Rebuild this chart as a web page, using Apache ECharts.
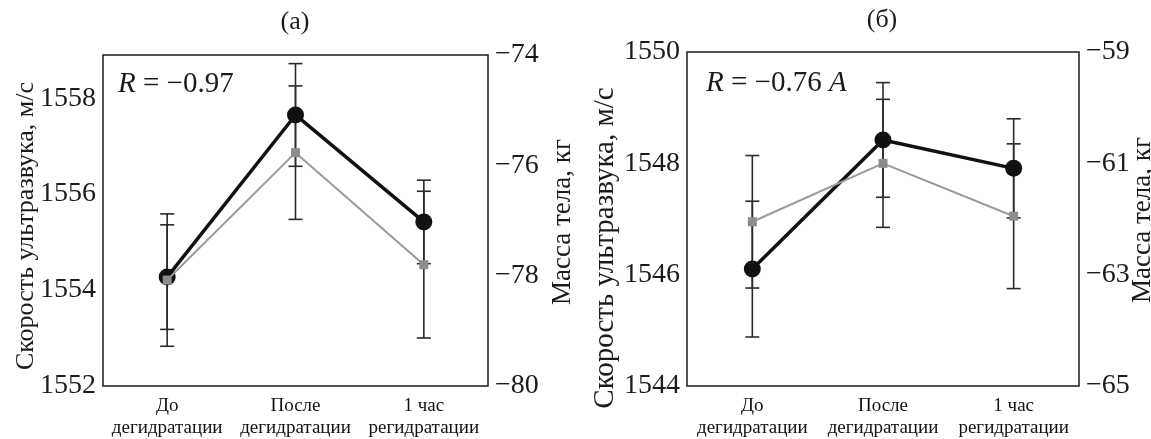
<!DOCTYPE html>
<html>
<head>
<meta charset="utf-8">
<script src="https://cdn.jsdelivr.net/npm/echarts@6/dist/echarts.min.js"></script>
<style>
  html, body { margin: 0; padding: 0; background: #fff; }
  #chart { width: 1151px; height: 439px; }
</style>
</head>
<body>
<div id="chart"></div>
<script>
// categories (same for both panels)
const categories = ['До\nдегидратации', 'После\nдегидратации', '1 час\nрегидратации'];

// panel (а): speed of ultrasound (left axis) and body mass (right axis, negated)
const speedA = [1554.27, 1557.65, 1555.42];
const speedErrA = [1.09, 1.07, 0.87];
const massA = [-78.08, -75.77, -77.80];
const massErrA = [1.2, 1.21, 1.33];

// panel (б)
const speedB = [1546.1, 1548.42, 1547.91];
const speedErrB = [1.22, 1.03, 0.89];
const massB = [-62.05, -61.0, -61.95];
const massErrB = [1.19, 1.15, 1.3];

// axis ranges
const speedRangeA = [1552, 1558.9];
const massRangeA = [-80, -74];
const speedRangeB = [1544, 1550];
const massRangeB = [-65, -59];
const tickStep = 2;

const FONT = '"Liberation Serif", "DejaVu Serif", serif';
const INK = '#1b1b1b';

// error bars drawn through the axes of the series
function errorBar(params, api) {
  let x = api.value(0), y = api.value(1), e = api.value(2);
  let hi = api.coord([x, y + e]);
  let lo = api.coord([x, y - e]);
  let w = 7;
  let style = { stroke: '#2a2a2a', lineWidth: 1.6 };
  return {
    type: 'group',
    children: [
      { type: 'line', shape: { x1: hi[0], y1: hi[1], x2: lo[0], y2: lo[1] }, style: style },
      { type: 'line', shape: { x1: hi[0] - w, y1: hi[1], x2: hi[0] + w, y2: hi[1] }, style: style },
      { type: 'line', shape: { x1: lo[0] - w, y1: lo[1], x2: lo[0] + w, y2: lo[1] }, style: style }
    ]
  };
}

function errData(vals, errs) {
  return vals.map((v, i) => [i, v, errs[i]]);
}

// plain numbers, no thousands separator; real minus sign
const plain = v => String(v).replace('-', '\u2212');

function xAxisFor(gridIndex) {
  return {
    type: 'category', gridIndex: gridIndex, data: categories, boundaryGap: true,
    axisLine: { show: false },
    axisTick: { inside: true, length: 8, lineStyle: { color: INK, width: 1.5 } },
    axisLabel: { fontFamily: FONT, fontSize: 19, color: '#111', lineHeight: 22, margin: 9, interval: 0 }
  };
}

function yAxisFor(gridIndex, range, position, showMax) {
  return {
    type: 'value', gridIndex: gridIndex, position: position,
    min: range[0], max: range[1], interval: tickStep,
    splitLine: { show: false },
    axisLine: { show: false },
    axisTick: { inside: true, length: 7, lineStyle: { color: INK, width: 1.5 } },
    axisLabel: {
      fontFamily: FONT, fontSize: 28, color: INK, margin: 7,
      showMaxLabel: showMax, showMinLabel: true,
      formatter: plain
    }
  };
}

const chart = echarts.init(document.getElementById('chart'));

const blackLine = {
  type: 'line', symbol: 'circle', symbolSize: 17, z: 3,
  lineStyle: { color: '#111', width: 3.5 },
  itemStyle: { color: '#111' }
};
const grayLine = {
  type: 'line', symbol: 'rect', symbolSize: 9, z: 4,
  lineStyle: { color: '#9a9a9a', width: 2 },
  itemStyle: { color: '#8c8c8c' }
};

const option = {
  backgroundColor: '#fff',
  animation: false,
  grid: [
    { left: 103, width: 385, top: 55, height: 336, show: true, borderColor: INK, borderWidth: 1.5 },
    { left: 687, width: 392, top: 52, height: 335, show: true, borderColor: INK, borderWidth: 1.5 }
  ],
  xAxis: [xAxisFor(0), xAxisFor(1)],
  yAxis: [
    yAxisFor(0, speedRangeA, 'left', false),
    yAxisFor(0, massRangeA, 'right', true),
    yAxisFor(1, speedRangeB, 'left', true),
    yAxisFor(1, massRangeB, 'right', true)
  ],
  series: [
    { type: 'custom', xAxisIndex: 0, yAxisIndex: 0, renderItem: errorBar, data: errData(speedA, speedErrA), z: 2 },
    { type: 'custom', xAxisIndex: 0, yAxisIndex: 1, renderItem: errorBar, data: errData(massA, massErrA), z: 2 },
    { type: 'custom', xAxisIndex: 1, yAxisIndex: 2, renderItem: errorBar, data: errData(speedB, speedErrB), z: 2 },
    { type: 'custom', xAxisIndex: 1, yAxisIndex: 3, renderItem: errorBar, data: errData(massB, massErrB), z: 2 },
    Object.assign({ xAxisIndex: 0, yAxisIndex: 0, data: speedA }, blackLine),
    Object.assign({ xAxisIndex: 0, yAxisIndex: 1, data: massA }, grayLine),
    Object.assign({ xAxisIndex: 1, yAxisIndex: 2, data: speedB }, blackLine),
    Object.assign({ xAxisIndex: 1, yAxisIndex: 3, data: massB }, grayLine)
  ],
  graphic: [
    // panel titles
    { type: 'text', x: 295, y: 22, style: { text: '(a)', font: '26px ' + FONT, fill: INK, align: 'center', verticalAlign: 'middle' } },
    { type: 'text', x: 882, y: 20, style: { text: '(б)', font: '26px ' + FONT, fill: INK, align: 'center', verticalAlign: 'middle' } },
    // correlation notes
    { type: 'text', x: 118, y: 84, style: { text: '{i|R} = −0.97', font: '29px ' + FONT, fill: INK, verticalAlign: 'middle',
      rich: { i: { fontStyle: 'italic', fontFamily: FONT, fontSize: 29, fill: INK } } } },
    { type: 'text', x: 706, y: 83, style: { text: '{i|R} = −0.76 {i|A}', font: '29px ' + FONT, fill: INK, verticalAlign: 'middle',
      rich: { i: { fontStyle: 'italic', fontFamily: FONT, fontSize: 29, fill: INK } } } },
    // axis names
    { type: 'text', x: 26, y: 226, rotation: Math.PI / 2,
      style: { text: 'Скорость ультразвука, м/с', font: '26px ' + FONT, fill: INK, align: 'center', verticalAlign: 'middle' } },
    { type: 'text', x: 563, y: 222, rotation: Math.PI / 2,
      style: { text: 'Масса тела, кг', font: '27px ' + FONT, fill: INK, align: 'center', verticalAlign: 'middle' } },
    { type: 'text', x: 605, y: 248, rotation: Math.PI / 2,
      style: { text: 'Скорость ультразвука, м/с', font: '29px ' + FONT, fill: INK, align: 'center', verticalAlign: 'middle' } },
    { type: 'text', x: 1143, y: 220, rotation: Math.PI / 2,
      style: { text: 'Масса тела, кг', font: '27px ' + FONT, fill: INK, align: 'center', verticalAlign: 'middle' } }
  ]
};

chart.setOption(option);
</script>
</body>
</html>
